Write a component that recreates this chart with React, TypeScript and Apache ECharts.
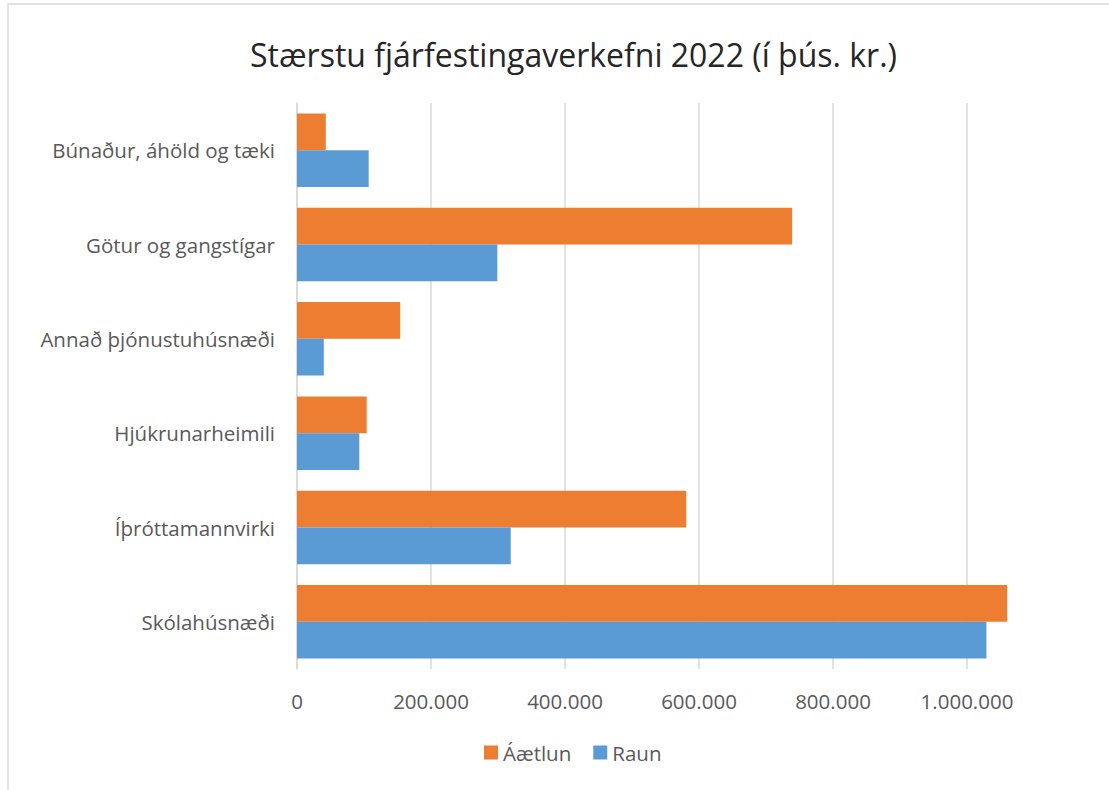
import React, { useEffect, useRef } from "react";
import * as echarts from "echarts";

const categories = [
  "Skólahúsnæði",
  "Íþróttamannvirki",
  "Hjúkrunarheimili",
  "Annað þjónustuhúsnæði",
  "Götur og gangstígar",
  "Búnaður, áhöld og tæki",
];
const aaetlun = [1060000, 581000, 104000, 154000, 739000, 43000];
const raun = [1029000, 319000, 93000, 40000, 299000, 107000];

const fmt = (v: number) =>
  String(Math.round(v)).replace(/\B(?=(\d{3})+(?!\d))/g, ".");

export default function App() {
  const ref = useRef<HTMLDivElement>(null);
  useEffect(() => {
    if (!ref.current) return;
    const chart = echarts.init(ref.current, undefined, { renderer: "svg" });
    const font = "Open Sans";
    chart.setOption({
      animation: false,
      backgroundColor: "#ffffff",
      title: {
        text: "Stærstu fjárfestingaverkefni 2022 (í þús. kr.)",
        left: 245,
        top: 33,
        textStyle: { fontFamily: font, fontSize: 32, fontWeight: "normal", color: "#262626" },
      },
      graphic: [
        {
          type: "rect",
          shape: { x: 8, y: 4, width: 1200, height: 900 },
          style: { fill: "none", stroke: "#d9d9d9", lineWidth: 1.5 },
          silent: true,
        },
      ],
      legend: {
        data: ["Áætlun", "Raun"],
        bottom: 22,
        left: 479,
        itemWidth: 14,
        itemHeight: 14,
        itemGap: 22,
        icon: "rect",
        textStyle: { fontFamily: font, fontSize: 20.5, color: "#595959" },
      },
      grid: { left: 297, right: 75, top: 103, bottom: 121, containLabel: false },
      xAxis: {
        type: "value",
        min: 0,
        max: 1100000,
        interval: 200000,
        axisLine: { show: false },
        axisTick: { show: false },
        splitLine: { show: true, showMaxLine: false, lineStyle: { color: "#d9d9d9", width: 1.5 } },
        axisLabel: {
          showMaxLabel: false,
          margin: 21,
          fontFamily: font,
          fontSize: 20.5,
          color: "#595959",
          formatter: (v: number) => fmt(v),
        },
      },
      yAxis: {
        type: "category",
        data: categories,
        axisLine: { show: true, lineStyle: { color: "#d9d9d9", width: 1.5 } },
        axisTick: { show: false },
        axisLabel: { margin: 22, fontFamily: font, fontSize: 20.5, color: "#595959" },
      },
      series: [
        {
          name: "Áætlun",
          type: "bar",
          data: aaetlun,
          barGap: "0%",
          barCategoryGap: "22%",
          itemStyle: { color: "#ED7D31" },
        },
        {
          name: "Raun",
          type: "bar",
          data: raun,
          barGap: "0%",
          barCategoryGap: "22%",
          itemStyle: { color: "#5B9BD5" },
        },
      ],
    });
    return () => chart.dispose();
  }, []);
  return (
    <div
      ref={ref}
      style={{ position: "fixed", left: 0, top: 0, width: 1109, height: 790 }}
    />
  );
}
